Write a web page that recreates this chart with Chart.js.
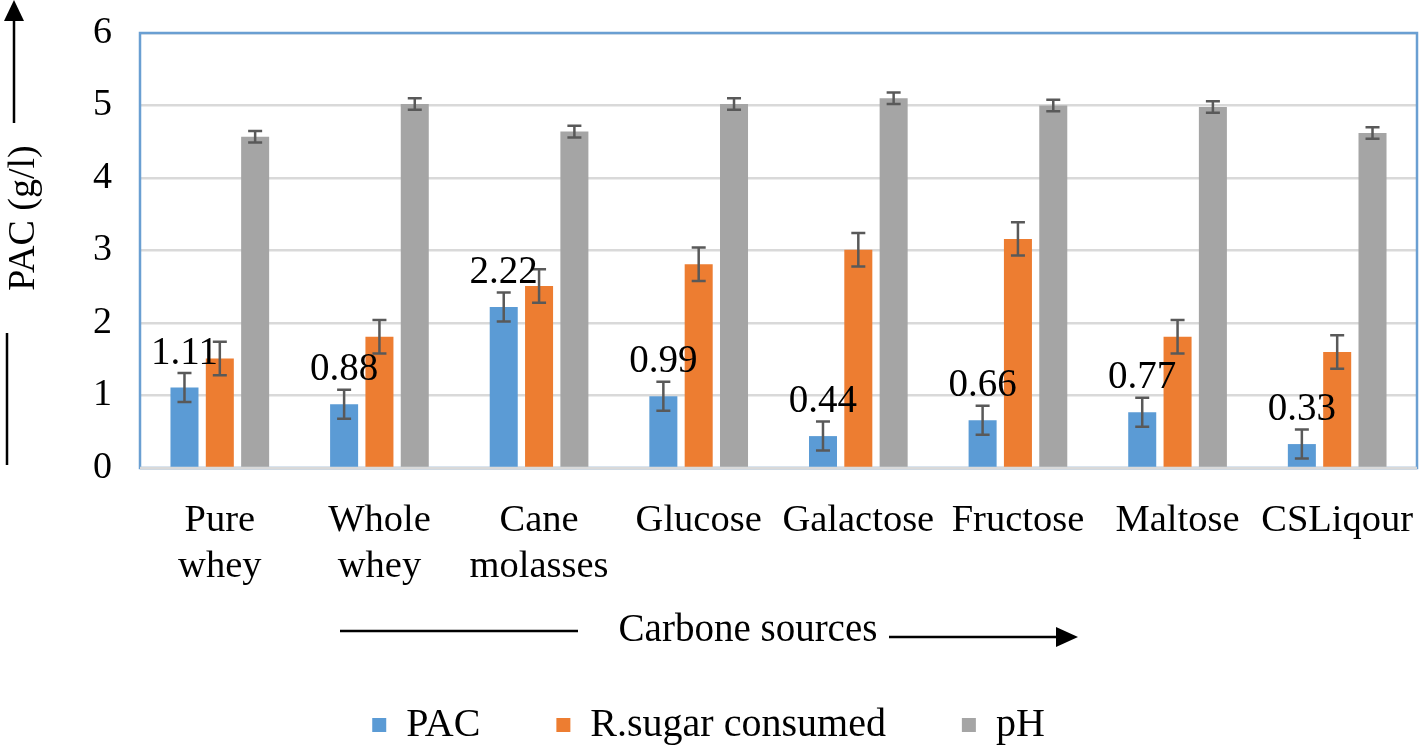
<!DOCTYPE html>
<html>
<head>
<meta charset="utf-8">
<script src="https://cdn.jsdelivr.net/npm/chart.js@4/dist/chart.umd.min.js"></script>
<style>
  html, body { margin: 0; padding: 0; background: #fff; }
  #wrap { width: 1419px; height: 747px; }
</style>
</head>
<body>
<div id="wrap"><canvas id="pacChart" width="1419" height="747"></canvas></div>
<script>
const categorias = [['Pure', 'whey'], ['Whole', 'whey'], ['Cane', 'molasses'], 'Glucose', 'Galactose', 'Fructose', 'Maltose', 'CSLiqour'];
const pac = [1.11, 0.88, 2.22, 0.99, 0.44, 0.66, 0.77, 0.33];
const pacErr = [0.2, 0.2, 0.2, 0.2, 0.2, 0.2, 0.2, 0.2];
const azucar = [1.51, 1.81, 2.51, 2.81, 3.01, 3.16, 1.81, 1.6];
const azucarErr = [0.23, 0.23, 0.23, 0.23, 0.23, 0.23, 0.23, 0.23];
const ph = [4.57, 5.02, 4.64, 5.02, 5.1, 5.0, 4.98, 4.62];
const phErr = [0.08, 0.08, 0.08, 0.08, 0.08, 0.08, 0.08, 0.08];
const yTicks = [0, 1, 2, 3, 4, 5, 6];

const serif = "'Liberation Serif', 'Times New Roman', serif";
const errores = [pacErr, azucarErr, phErr];

// barras de error, etiquetas, borde y flechas
const extras = {
  id: 'extras',
  beforeDatasetsDraw(chart) {
    const { ctx, chartArea: a } = chart;
    ctx.save();
    ctx.strokeStyle = '#6a9fd2';
    ctx.lineWidth = 2.5;
    ctx.strokeRect(a.left, a.top, a.right - a.left, a.bottom - a.top);
    ctx.strokeStyle = '#d9d9d9';
    ctx.beginPath();
    ctx.moveTo(a.left, a.bottom);
    ctx.lineTo(a.right, a.bottom);
    ctx.stroke();
    ctx.restore();
  },
  afterDatasetsDraw(chart) {
    const { ctx, scales: { y } } = chart;
    ctx.save();
    ctx.strokeStyle = '#595959';
    ctx.lineWidth = 2.5;
    chart.data.datasets.forEach((ds, i) => {
      const meta = chart.getDatasetMeta(i);
      meta.data.forEach((bar, j) => {
        const v = ds.data[j];
        const e = errores[i][j];
        const y1 = y.getPixelForValue(v + e);
        const y2 = y.getPixelForValue(v - e);
        ctx.beginPath();
        ctx.moveTo(bar.x, y1); ctx.lineTo(bar.x, y2);
        ctx.moveTo(bar.x - 7, y1); ctx.lineTo(bar.x + 7, y1);
        ctx.moveTo(bar.x - 7, y2); ctx.lineTo(bar.x + 7, y2);
        ctx.stroke();
      });
    });
    // etiquetas PAC
    ctx.fillStyle = '#000';
    ctx.font = '39px ' + serif;
    ctx.textAlign = 'center';
    ctx.textBaseline = 'alphabetic';
    chart.getDatasetMeta(0).data.forEach((bar, j) => {
      ctx.fillText(pac[j].toFixed(2), bar.x, bar.y - 24);
    });
    ctx.restore();
  },
  afterDraw(chart) {
    const { ctx } = chart;
    ctx.save();
    ctx.fillStyle = '#000';
    ctx.strokeStyle = '#000';
    ctx.lineWidth = 2.5;
    ctx.font = '38px ' + serif;

    // titulo eje y
    ctx.save();
    ctx.translate(34, 218);
    ctx.rotate(-Math.PI / 2);
    ctx.textAlign = 'center';
    ctx.textBaseline = 'alphabetic';
    ctx.fillText('PAC (g/l)', 0, 0);
    ctx.restore();
    ctx.beginPath();
    ctx.moveTo(14, 123); ctx.lineTo(14, 18);
    ctx.moveTo(7, 333); ctx.lineTo(7, 465);
    ctx.stroke();
    ctx.beginPath();
    ctx.moveTo(14, 0); ctx.lineTo(4, 21); ctx.lineTo(24, 21); ctx.closePath();
    ctx.fill();

    // titulo eje x
    ctx.font = '39px ' + serif;
    ctx.textAlign = 'center';
    ctx.textBaseline = 'alphabetic';
    ctx.fillText('Carbone sources', 748, 641);
    ctx.beginPath();
    ctx.moveTo(340, 631); ctx.lineTo(578, 631);
    ctx.moveTo(889, 637); ctx.lineTo(1060, 637);
    ctx.stroke();
    ctx.beginPath();
    ctx.moveTo(1078, 637); ctx.lineTo(1056, 627); ctx.lineTo(1056, 647); ctx.closePath();
    ctx.fill();
    ctx.restore();
  }
};

new Chart(document.getElementById('pacChart'), {
  type: 'bar',
  data: {
    labels: categorias,
    datasets: [
      { label: 'PAC', data: pac, backgroundColor: '#5b9bd5' },
      { label: 'R.sugar consumed', data: azucar, backgroundColor: '#ed7d31' },
      { label: 'pH', data: ph, backgroundColor: '#a5a5a5' }
    ]
  },
  options: {
    responsive: false,
    animation: false,
    categoryPercentage: 0.664,
    barPercentage: 0.793,
    layout: { padding: { top: 33, right: 2, left: 0, bottom: -8 } },
    plugins: {
      legend: {
        position: 'bottom',
        labels: {
          boxWidth: 14,
          boxHeight: 14,
          padding: 76,
          color: '#000',
          font: { family: serif, size: 40 }
        }
      },
      tooltip: { enabled: false }
    },
    scales: {
      x: {
        grid: { display: false },
        border: { display: false },
        ticks: { color: '#000', padding: 22, maxRotation: 0, autoSkip: false, font: { family: serif, size: 38.5 } },
        afterFit(scale) {
          scale.height = 161;
          scale.paddingLeft = 0;
          scale.paddingRight = 0;
        }
      },
      y: {
        min: 0,
        max: 6,
        afterBuildTicks(scale) { scale.ticks = yTicks.map(v => ({ value: v })); },
        grid: { color: '#d9d9d9', lineWidth: 2.5, drawTicks: false },
        border: { display: false },
        ticks: { color: '#000', padding: 28, font: { family: serif, size: 38 } },
        afterFit(scale) {
          scale.width = 140;
          scale.paddingTop = 0;
          scale.paddingBottom = 0;
        }
      }
    }
  },
  plugins: [extras]
});
</script>
</body>
</html>
